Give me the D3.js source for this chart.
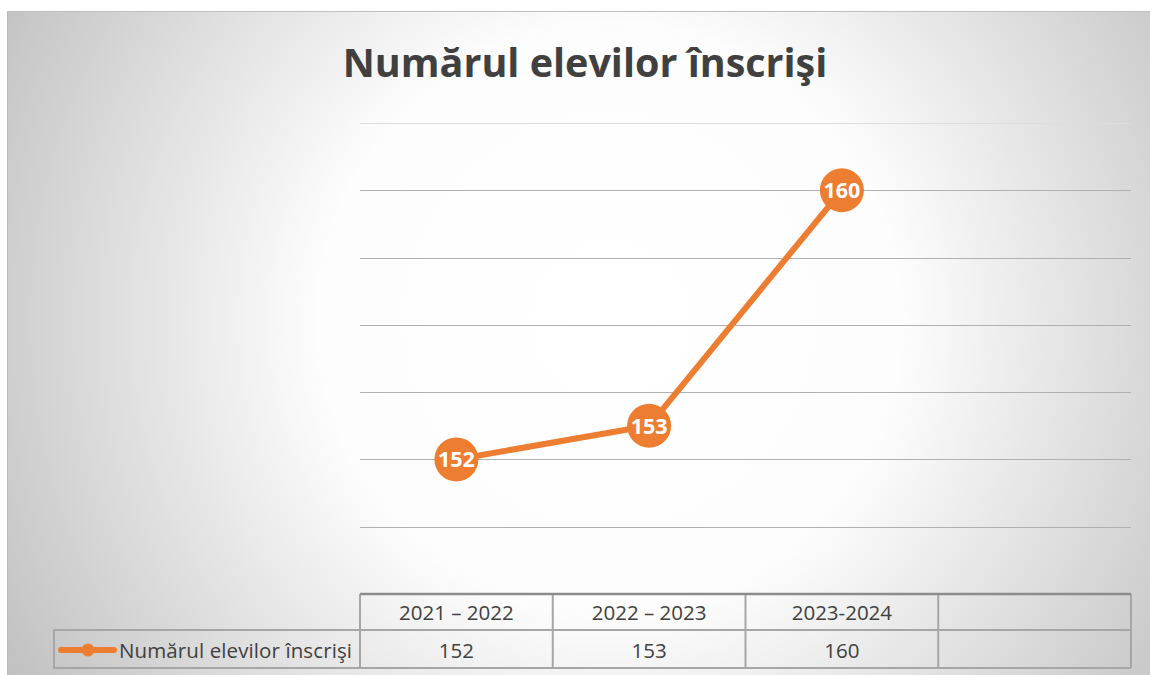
<!DOCTYPE html>
<html>
<head>
<meta charset="utf-8">
<script src="https://cdn.jsdelivr.net/npm/d3@7"></script>
<style>
  body { margin: 0; background: #fff; }
  svg { display: block; font-family: "Open Sans", "Noto Sans", sans-serif; }
</style>
</head>
<body>
<div id="main"></div>
<script>
// data
var categories = ['2021 – 2022', '2022 – 2023', '2023-2024', ''];
var values = [152, 153, 160];
var seriesName = 'Numărul elevilor înscrişi';
var chartTitle = 'Numărul elevilor înscrişi';
var gridTicks = [150, 152, 154, 156, 158, 160, 162];

var W = 1150, H = 675;
var orange = '#ED7D31';

var svg = d3.select('#main').append('svg')
	.attr('width', W)
	.attr('height', H);

// background gradient (white centre, grey corners)
var defs = svg.append('defs');
var grad = defs.append('radialGradient')
	.attr('id', 'bg')
	.attr('gradientUnits', 'userSpaceOnUse')
	.attr('cx', 610).attr('cy', 320).attr('r', 690);
grad.append('stop').attr('offset', '0').attr('stop-color', '#ffffff');
grad.append('stop').attr('offset', '0.42').attr('stop-color', '#fdfdfd');
grad.append('stop').attr('offset', '1').attr('stop-color', '#c2c2c2');

svg.append('rect')
	.attr('x', 7).attr('y', 11)
	.attr('width', W - 7).attr('height', H - 11)
	.attr('fill', 'url(#bg)');
svg.append('line')
	.attr('x1', 7).attr('x2', W).attr('y1', 11.5).attr('y2', 11.5)
	.attr('stroke', '#bdbdbd');
svg.append('line')
	.attr('x1', 7.5).attr('x2', 7.5).attr('y1', 11).attr('y2', H)
	.attr('stroke', '#bdbdbd');

// title
svg.append('text')
	.attr('x', 585).attr('y', 77)
	.attr('text-anchor', 'middle')
	.attr('font-size', 39.5)
	.attr('font-weight', 'bold')
	.attr('fill', '#404040')
	.text(chartTitle);

// scales
var x = d3.scaleBand()
	.domain(d3.range(categories.length))
	.range([360, 1131]);
var y = d3.scaleLinear()
	.domain([148, 162])
	.range([594, 123]);

// gridlines
svg.append('g').selectAll('line')
	.data(gridTicks)
	.enter()
	.append('line')
	.attr('x1', 360).attr('x2', 1131)
	.attr('y1', function(d){ return Math.round(y(d)) + 0.5; })
	.attr('y2', function(d){ return Math.round(y(d)) + 0.5; })
	.attr('stroke', function(d, i){ return i == 6 ? '#dddddd' : '#b0b0b0'; })
	.attr('stroke-width', 1.2);

// line
var line = d3.line()
	.x(function(d, i){ return x(i) + x.bandwidth() / 2; })
	.y(function(d){ return y(d); });

svg.append('path')
	.datum(values)
	.attr('d', line)
	.attr('fill', 'none')
	.attr('stroke', orange)
	.attr('stroke-width', 6)
	.attr('stroke-linecap', 'round');

var pts = svg.append('g').selectAll('g')
	.data(values)
	.enter()
	.append('g')
	.attr('transform', function(d, i){
		return 'translate(' + (x(i) + x.bandwidth() / 2) + ',' + y(d) + ')';
	});
pts.append('circle')
	.attr('r', 22)
	.attr('fill', orange);
pts.append('text')
	.attr('text-anchor', 'middle')
	.attr('dy', '0.36em')
	.attr('font-size', 21.5)
	.attr('font-weight', 'bold')
	.attr('fill', '#fff')
	.text(function(d){ return d; });

// data table
var tTop = 594, r1 = 630, tBot = 668;
var tg = svg.append('g').attr('stroke', '#a6a6a6').attr('stroke-width', 2);

// thick top line
svg.append('line')
	.attr('x1', 360).attr('x2', 1131).attr('y1', tTop).attr('y2', tTop)
	.attr('stroke', '#8c8c8c').attr('stroke-width', 2.5);

tg.append('line').attr('x1', 360).attr('x2', 1131).attr('y1', r1).attr('y2', r1);
tg.append('line').attr('x1', 53).attr('x2', 1131).attr('y1', tBot).attr('y2', tBot);
tg.append('line').attr('x1', 53).attr('x2', 360).attr('y1', r1).attr('y2', r1);
tg.append('line').attr('x1', 54).attr('x2', 54).attr('y1', r1).attr('y2', tBot);

tg.selectAll('line.v')
	.data(d3.range(categories.length + 1))
	.enter()
	.append('line')
	.attr('class', 'v')
	.attr('x1', function(i){ return i < categories.length ? x(i) : 1131; })
	.attr('x2', function(i){ return i < categories.length ? x(i) : 1131; })
	.attr('y1', tTop).attr('y2', tBot);

svg.append('g').selectAll('text')
	.data(categories)
	.enter()
	.append('text')
	.attr('x', function(d, i){ return x(i) + x.bandwidth() / 2; })
	.attr('y', 620)
	.attr('text-anchor', 'middle')
	.attr('font-size', 20.5)
	.attr('fill', '#404040')
	.text(function(d){ return d; });

svg.append('g').selectAll('text')
	.data(values)
	.enter()
	.append('text')
	.attr('x', function(d, i){ return x(i) + x.bandwidth() / 2; })
	.attr('y', 658)
	.attr('text-anchor', 'middle')
	.attr('font-size', 20.5)
	.attr('fill', '#404040')
	.text(function(d){ return d; });

// legend key
svg.append('line')
	.attr('x1', 61).attr('x2', 114).attr('y1', 650).attr('y2', 650)
	.attr('stroke', orange).attr('stroke-width', 6).attr('stroke-linecap', 'round');
svg.append('circle')
	.attr('cx', 88).attr('cy', 650).attr('r', 6.5)
	.attr('fill', orange);
svg.append('text')
	.attr('x', 119).attr('y', 658)
	.attr('font-size', 20.5)
	.attr('textLength', 233)
	.attr('fill', '#404040')
	.text(seriesName);
</script>
</body>
</html>
